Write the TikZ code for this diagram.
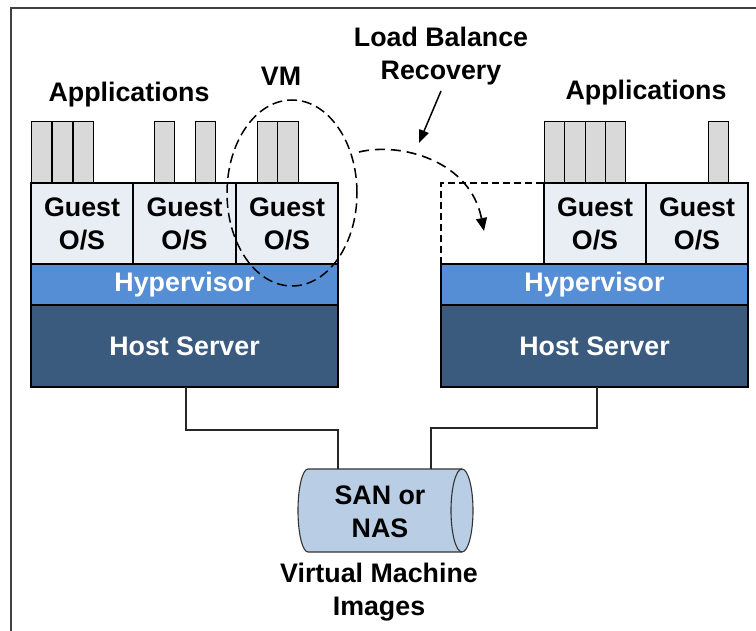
\documentclass[tikz,border=0pt]{standalone}
\usepackage{fontspec}
\setmainfont{Liberation Sans}
\usetikzlibrary{shapes.geometric,arrows.meta}
\definecolor{guestc}{HTML}{E9EEF5}
\definecolor{hypc}{HTML}{558ED5}
\definecolor{hostc}{HTML}{3A5A7E}
\definecolor{appc}{HTML}{D9D9D9}
\definecolor{sanc}{HTML}{B9CDE5}
\begin{document}
\begin{tikzpicture}[x=1pt,y=-1pt,
  every node/.style={font=\fontsize{26.8}{33}\selectfont\bfseries, inner sep=0pt, outer sep=0pt},
  guest/.style={draw=black, line width=1.1pt, fill=guestc, align=center, anchor=north west, minimum width=#1, minimum height=81pt},
  hyp/.style={draw=black, line width=1.1pt, fill=hypc, text=white, anchor=north west, minimum width=307pt, minimum height=41pt},
  host/.style={draw=black, line width=1.1pt, fill=hostc, text=white, anchor=north west, minimum width=307pt, minimum height=82pt},
  app/.style={draw=black, line width=0.9pt, fill=appc, anchor=north west, minimum width=#1, minimum height=62pt},
  app/.default=20.5pt,
  lbl/.style={align=center},
  link/.style={line width=1.2pt, draw=black!85}
]
\useasboundingbox (0,0) rectangle (756,631);
% frame
\draw[line width=1.4pt, draw=black!75] (11,640) -- (11,8) -- (770,8);

% ---- left server ----
\node[app] (a1) at (31,121) {};
\node[app] (a2) at (52,121) {};
\node[app] (a3) at (73,121) {};
\node[app] (a4) at (154,121) {};
\node[app] (a5) at (195,121) {};
\node[app] (a6) at (257,121) {};
\node[app] (a7) at (277.5,121) {};
\node[guest=102pt] (g1) at (31,183) {Guest\\O/S};
\node[guest=103pt] (g2) at (133,183) {Guest\\O/S};
\node[guest=102pt] (g3) at (236,183) {Guest\\O/S};
\node[hyp] (hy1) at (31,264) {Hypervisor};
\node[host] (h1) at (31,305) {Host Server};

% ---- right server ----
\node[app] (b1) at (544,121) {};
\node[app] (b2) at (564.5,121) {};
\node[app] (b3) at (585,121) {};
\node[app] (b4) at (605,121) {};
\node[app] (b5) at (708,121) {};
\node[guest=102pt] (g4) at (544,183) {Guest\\O/S};
\node[guest=102pt] (g5) at (646,183) {Guest\\O/S};
\node[hyp] (hy2) at (441,264) {Hypervisor};
\node[host] (h2) at (441,305) {Host Server};
\draw[dashed, dash pattern=on 7pt off 4pt, line width=1.1pt] (hy2.north west) -- (441,183) -- (g4.north west);

% labels
\node[lbl] (appL) at (129,95) {Applications};
\node[lbl] (appR) at (646,93) {Applications};
\node[lbl] (vm) at (281,76) {VM};
\node[lbl] (lbr) at (441,56) {Load Balance\\Recovery};

% VM ellipse
\node[draw, ellipse, dashed, dash pattern=on 10pt off 5pt, line width=1.5pt, minimum width=130pt, minimum height=186pt] (vme) at (292,193) {};

% migration arrow
\coordinate (mstart) at (359,152);
\coordinate (mend) at (484,231);
\draw[dashed, dash pattern=on 10pt off 6pt, line width=1.6pt, -{Triangle[length=13pt,width=11pt]}]
  (mstart) .. controls (400,142) and (470,160) .. (mend);
\draw[line width=1.5pt, -{Triangle[length=13pt,width=10pt]}] (lbr.south) ++(0,6) -- (419,143);

% SAN cylinder
\node[minimum width=164pt, minimum height=83pt] (san) at (385,510.5) {};
\draw[draw=black!80, line width=1.1pt, fill=sanc]
  (308,469) -- (462,469) arc[start angle=-90, end angle=90, x radius=11, y radius=41.5]
  -- (308,552) arc[start angle=90, end angle=270, x radius=10, y radius=41.5] -- cycle;
\draw[draw=black!80, line width=1.1pt] (462,469) arc[start angle=-90, end angle=-270, x radius=11, y radius=41.5];
\node[lbl] (santxt) at (380,512) {SAN or\\NAS};
\node[lbl] (vmi) at (379,592) {Virtual Machine\\Images};

% connectors
\draw[link] ([xshift=155pt]h1.south west) -- ++(0,43) -| ([xshift=-47pt]san.north);
\draw[link] ([xshift=156pt]h2.south west) -- ++(0,41) -| ([xshift=46pt]san.north);
\end{tikzpicture}
\end{document}
